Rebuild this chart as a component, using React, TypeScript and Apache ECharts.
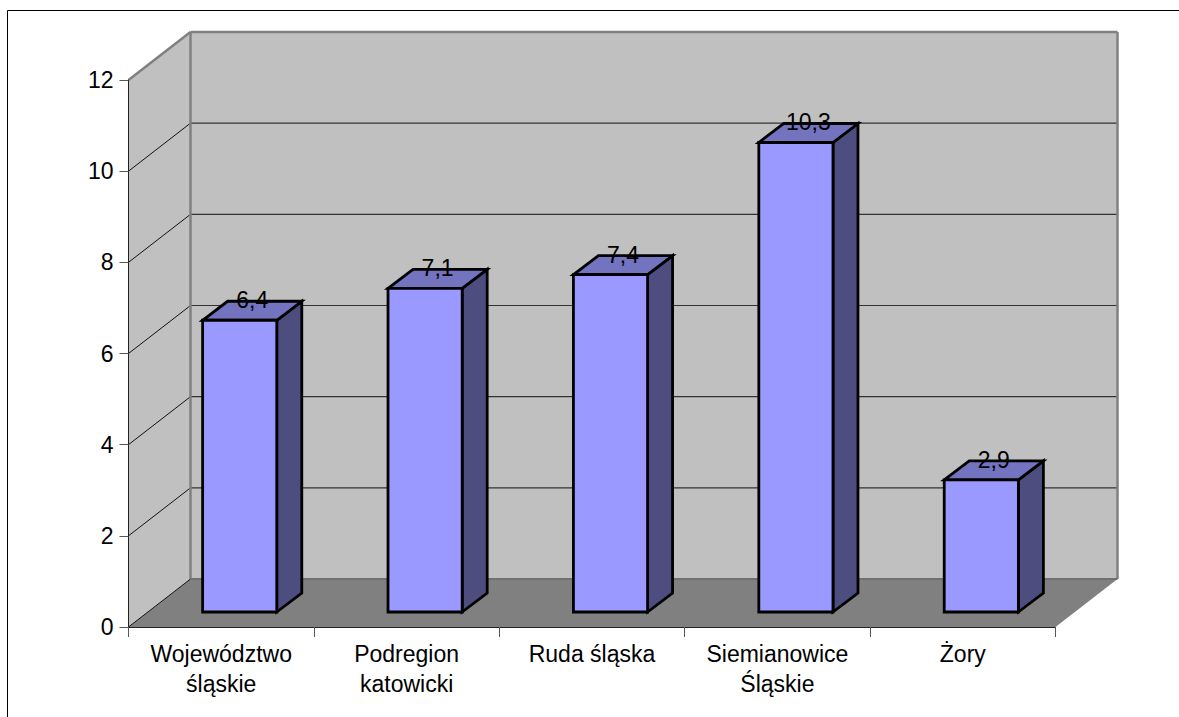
import React, { useEffect, useRef } from "react";
import * as echarts from "echarts";

const categories = ["Województwo\nśląskie", "Podregion\nkatowicki", "Ruda śląska", "Siemianowice\nŚląskie", "Żory"];
const values = [6.4, 7.1, 7.4, 10.3, 2.9];
const labels = ["6,4", "7,1", "7,4", "10,3", "2,9"];
const wallTicks = [2, 4, 6, 8, 10];
const FONT = "'Liberation Sans', Arial, sans-serif";
const DX = 62, DY = -48; // full floor depth
const GX = 18.5, GY = -15; // gap before a bar
const BX = 25, BY = -19; // bar depth
const BAR_RATIO = 0.4;

function poly(points: number[][], fill: string, stroke?: string, lineWidth = 0) {
  return { type: "polygon", shape: { points }, style: { fill, stroke: stroke ?? "none", lineWidth } };
}
function seg(a: number[], b: number[], stroke: string, lineWidth: number) {
  return { type: "line", shape: { x1: a[0], y1: a[1], x2: b[0], y2: b[1] }, style: { stroke, lineWidth } };
}

export default function App() {
  const ref = useRef<HTMLDivElement>(null);
  useEffect(() => {
    document.body.style.margin = "0";
    const chart = echarts.init(ref.current!, null, { renderer: "svg" });
    chart.setOption({
      animation: false,
      backgroundColor: "#fff",
      grid: { left: 128.5, top: 80, width: 927, height: 547, containLabel: false },
      graphic: [
        { type: "line", shape: { x1: 7.5, y1: 10.5, x2: 1179, y2: 10.5 }, style: { stroke: "#000", lineWidth: 1 }, silent: true },
        { type: "line", shape: { x1: 7.5, y1: 10.5, x2: 7.5, y2: 717 }, style: { stroke: "#000", lineWidth: 1 }, silent: true },
      ],
      xAxis: {
        type: "category",
        data: categories,
        z: 5,
        axisLine: { show: true, lineStyle: { color: "#222", width: 1 } },
        axisTick: { show: true, alignWithLabel: false, length: 10, lineStyle: { color: "#555", width: 1 } },
        axisLabel: { interval: 0, margin: 12, color: "#000", fontFamily: FONT, fontSize: 23, lineHeight: 30, hideOverlap: false },
        splitLine: { show: false },
      },
      yAxis: {
        type: "value",
        min: 0,
        max: 12,
        interval: 2,
        z: 5,
        axisLine: { show: true, lineStyle: { color: "#222", width: 1 } },
        axisTick: { show: true, length: 9, lineStyle: { color: "#555", width: 1 } },
        axisLabel: { margin: 15, color: "#000", fontFamily: FONT, fontSize: 23 },
        splitLine: { show: false },
      },
      series: [
        {
          type: "custom",
          name: "walls",
          z: 1,
          silent: true,
          data: [[0]],
          renderItem: (params: any, api: any) => {
            const cs = params.coordSys;
            const xL = cs.x, xR = cs.x + cs.width;
            const y0 = api.coord([0, 0])[1];
            const yT = api.coord([0, 12])[1];
            const children: any[] = [
              poly([[xL, y0], [xL + DX, y0 + DY], [xL + DX, yT + DY], [xL, yT]], "#C0C0C0"),
              poly([[xL + DX, y0 + DY], [xR + DX, y0 + DY], [xR + DX, yT + DY], [xL + DX, yT + DY]], "#C0C0C0"),
              poly([[xL, y0], [xR, y0], [xR + DX, y0 + DY], [xL + DX, y0 + DY]], "#808080"),
            ];
            wallTicks.forEach((t) => {
              const y = api.coord([0, t])[1];
              children.push(seg([xL, y], [xL + DX, y + DY], "#111", 1));
              children.push(seg([xL + DX, y + DY], [xR + DX, y + DY], "#333", 1.2));
            });
            children.push(seg([xL, y0], [xL + DX, y0 + DY], "#111", 1));
            children.push(seg([xL + DX, y0 + DY], [xL + DX, yT + DY], "#808080", 2.5));
            children.push(seg([xR + DX, y0 + DY], [xR + DX, yT + DY], "#808080", 2.5));
            children.push(seg([xL + DX, yT + DY], [xR + DX, yT + DY], "#808080", 2.5));
            children.push(seg([xL, yT], [xL + DX, yT + DY], "#808080", 2.5));
            children.push(seg([xL + DX, y0 + DY], [xR + DX, y0 + DY], "#707070", 2));
            return { type: "group", children };
          },
        },
        {
          type: "custom",
          name: "bars",
          z: 3,
          silent: true,
          data: values.map((v, i) => [i, v]),
          encode: { x: 0, y: 1 },
          renderItem: (params: any, api: any) => {
            const i = api.value(0);
            const v = api.value(1);
            const c = api.coord([i, v]);
            const b = api.coord([i, 0]);
            const w = api.size([1, 0])[0] * BAR_RATIO;
            const x0 = c[0] - w / 2 + GX;
            const x1 = c[0] + w / 2 + GX;
            const top = c[1] + GY;
            const bot = b[1] + GY;
            const stroke = "#000";
            const lw = 2.8;
            return {
              type: "group",
              children: [
                poly([[x1, bot], [x1 + BX, bot + BY], [x1 + BX, top + BY], [x1, top]], "#4D4D80", stroke, lw),
                poly([[x0, top], [x1, top], [x1 + BX, top + BY], [x0 + BX, top + BY]], "#7373BF", stroke, lw),
                poly([[x0, bot], [x1, bot], [x1, top], [x0, top]], "#9999FF", stroke, lw),
                {
                  type: "text",
                  z2: 10,
                  x: (x0 + x1) / 2 + BX / 2,
                  y: top + BY - 1,
                  style: {
                    text: labels[params.dataIndex],
                    fill: "#000",
                    font: `23px ${FONT}`,
                    align: "center",
                    verticalAlign: "middle",
                  },
                },
              ],
            };
          },
        },
      ],
    });
    return () => chart.dispose();
  }, []);
  return <div ref={ref} style={{ width: 1179, height: 717 }} />;
}
